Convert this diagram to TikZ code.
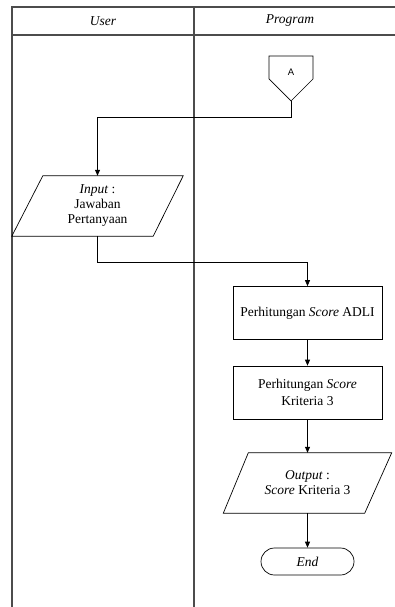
\documentclass[tikz,border=0pt]{standalone}
\usepackage{fontspec}
\setmainfont{Liberation Serif}
\newfontfamily\sansA{Liberation Sans}
\usetikzlibrary{arrows.meta,shapes.misc}
\begin{document}
\begin{tikzpicture}[x=1pt,y=-1pt,
  lane/.style={draw=black!70,line width=1.1pt},
  flow/.style={draw=black,line width=0.7pt},
  arr/.style={flow,-{Triangle[length=6pt,width=5pt]}},
  txt/.style={font=\fontsize{13.5}{15}\selectfont,align=center,inner sep=0pt},
  procbox/.style={draw=black,line width=0.7pt,minimum width=149pt,minimum height=53pt,align=center,font=\fontsize{13.5}{17}\selectfont,inner sep=0pt},
  iobox/.style={minimum height=60pt,align=center,inner sep=0pt,font=\fontsize{13.5}{15}\selectfont},
  term/.style={draw=black,line width=0.7pt,rounded rectangle,minimum width=93pt,minimum height=27pt,inner sep=0pt,font=\fontsize{13.5}{15}\selectfont}
]
\useasboundingbox (0,0) rectangle (395,607);
% swimlane frame
\draw[lane] (12,607) -- (12,7) -- (395,7);
\draw[lane] (12,35) -- (395,35);
\draw[lane] (194,7) -- (194,607);
\node[txt] (hu) at (103,21) {\textit{User}};
\node[txt] (hp) at (290,21) {\textit{Program}};
% off-page connector
\draw[flow] (269,56) -- (313,56) -- (313,79) -- (291,101) -- (269,79) -- cycle;
\node[font=\sansA\fontsize{9.5}{11}\selectfont,inner sep=0pt] (A) at (291,72) {A};
\coordinate (cp) at (291,101);
% input
\node[iobox,minimum width=171pt] (in) at (97.5,206) {\textit{Input} :\\Jawaban\\Pertanyaan};
\draw[flow] ([xshift=31pt]in.north west) -- (in.north east) -- ([xshift=-30pt]in.south east) -- (in.south west) -- cycle;
% process boxes
\node[procbox] (p1) at (307.5,313) {Perhitungan \textit{Score} ADLI};
\node[procbox] (p2) at (307.5,392.5) {Perhitungan \textit{Score}\\Kriteria 3};
% output
\node[iobox,minimum width=168pt] (out) at (307.5,483) {\textit{Output} :\\\textit{Score} Kriteria 3};
\draw[flow] ([xshift=25pt]out.north west) -- (out.north east) -- ([xshift=-27pt]out.south east) -- (out.south west) -- cycle;
% end
\node[term] (end) at (307.5,561.5) {\textit{End}};
% bends
\coordinate (b1) at (291,117);
\coordinate (b2) at (97.5,262);
% connectors
\draw[arr] (cp) -- (b1) -| (in.north);
\draw[arr] (in.south) -- (b2) -| (p1.north);
\draw[arr] (p1) -- (p2);
\draw[arr] (p2.south) -- (out.north);
\draw[arr] (out.south) -- (end.north);
\end{tikzpicture}
\end{document}
